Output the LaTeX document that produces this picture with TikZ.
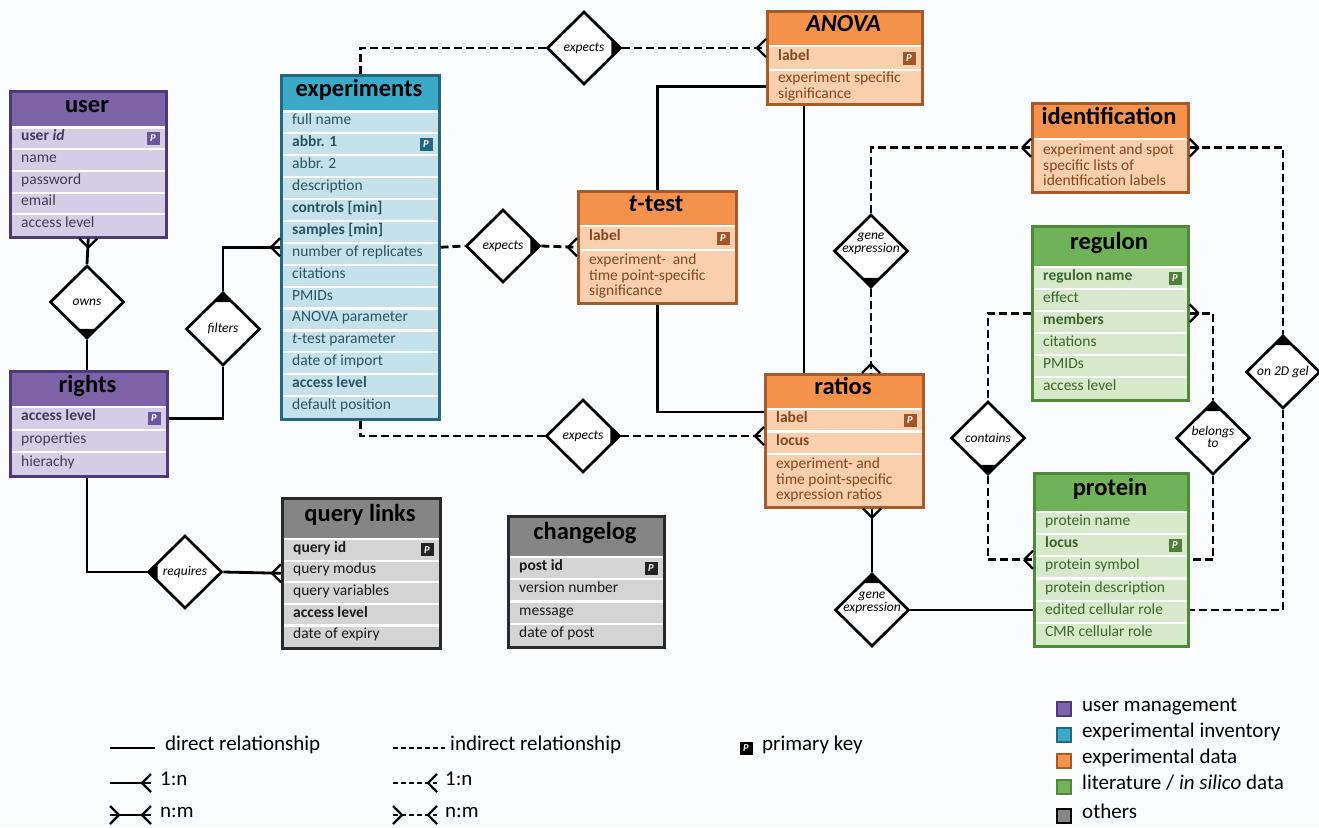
\documentclass[tikz,border=0pt]{standalone}
\usepackage{fontspec}
\setmainfont{Carlito}
\usetikzlibrary{shapes.geometric,calc}

\definecolor{bg}{HTML}{FBFCFE}
\definecolor{puhead}{HTML}{7E63A8}\definecolor{purow}{HTML}{D5CDE6}\definecolor{pudark}{HTML}{4E3A7A}\definecolor{putxt}{HTML}{45395A}\definecolor{pupk}{HTML}{6B55A0}
\definecolor{tehead}{HTML}{3AAAC8}\definecolor{terow}{HTML}{C5E1EB}\definecolor{tedark}{HTML}{22687E}\definecolor{tetxt}{HTML}{285463}\definecolor{tepk}{HTML}{22687E}
\definecolor{orhead}{HTML}{F4914B}\definecolor{orrow}{HTML}{F9CFAE}\definecolor{ordark}{HTML}{A85A2A}\definecolor{ortxt}{HTML}{84461F}\definecolor{orpk}{HTML}{A05628}
\definecolor{grhead}{HTML}{70B257}\definecolor{grrow}{HTML}{D6E9CB}\definecolor{grdark}{HTML}{4F8A3A}\definecolor{grtxt}{HTML}{3A662C}\definecolor{grpk}{HTML}{4F7F3A}
\definecolor{gyhead}{HTML}{858585}\definecolor{gyrow}{HTML}{D4D4D4}\definecolor{gydark}{HTML}{2A2A2A}\definecolor{gytxt}{HTML}{1A1A1A}\definecolor{gypk}{HTML}{222222}

\tikzset{
 rel/.style={line width=2.8pt},
 ind/.style={line width=2.8pt, dash pattern=on 8pt off 4pt},
 crowline/.style={line width=2.4pt},
 rowtxt/.style={anchor=west, inner sep=0, font=\fontsize{15.5}{15.5}\selectfont, text height=0.72em, text depth=0.22em},
 desctxt/.style={anchor=west, inner sep=0, align=left, font=\fontsize{15.5}{15.5}\selectfont},
 ttl/.style={inner sep=0, font=\bfseries\fontsize{24.5}{24.5}\selectfont, text height=0.72em, text depth=0.2em},
 pkbox/.style={rectangle, minimum size=13pt, inner sep=0, text=white, font=\bfseries\itshape\fontsize{10.5}{10.5}\selectfont},
 dia/.style={diamond, draw, line width=2.7pt, fill=white, minimum width=74pt, minimum height=73pt, inner sep=0},
 dlab/.style={inner sep=0, align=center, font=\itshape\fontsize{13.5}{12.5}\selectfont},
 legtxt/.style={anchor=west, inner sep=0, font=\fontsize{21}{21}\selectfont, text height=0.72em, text depth=0.22em},
 legsq/.style={rectangle, minimum size=14pt, inner sep=0, line width=1.8pt},
}

% table: name prefix x1 y1 x2 y2 headerbottom title
\newcommand\ertab[8]{%
 \fill[#2row] (#3,#4) rectangle (#5,#6);
 \fill[#2head] (#3,#4) rectangle (#5,#7);
 \draw[white, line width=2.2pt] (#3,#7) -- (#5,#7);
 \node[ttl] (#1-t) at ({(#3+#5)/2},{(#4+#7)/2+1}) {#8};
}
\newcommand\erbox[6]{%
 \node[draw=#2dark, line width=2.5pt, inner sep=0, anchor=north west,
   minimum width={(#5-#3)*1pt}, minimum height={(#6-#4)*1pt}] (#1) at (#3,#4) {};
}
% rows: name prefix x1 x2 ystart pitch list
\newcommand\errows[7]{%
 \foreach \rtext/\rflag [count=\i] in {#7} {
  \pgfmathsetmacro\yt{#5+(\i-1)*#6}
  \pgfmathsetmacro\ym{#5+(\i-0.5)*#6}
  \ifnum\i>1 \draw[white, line width=2.2pt] (#3,\yt) -- (#4,\yt); \fi
  \node[rowtxt, text=#2txt] (#1-\i) at (#3+12,\ym) {\rtext};
  \ifnum\rflag=1 \node[pkbox, fill=#2pk] (#1-pk) at (#4-12,\ym) {P}; \fi
 }
}
% desc row: name prefix x1 x2 ytop ybot text
\newcommand\erdesc[7]{%
 \draw[white, line width=2.2pt] (#3,#5) -- (#4,#5);
 \node[desctxt, text=#2txt] (#1) at (#3+12,{(#5+#6)/2}) {#7};
}
% crow's foot: point, outward dx, dy
\newcommand\crow[3]{%
 \draw[crowline] ($(#1)+({9*(#2)},{9*(#3)})$) -- ($(#1)+({9*(#3)},{9*(#2)})$)
   ($(#1)+({9*(#2)},{9*(#3)})$) -- ($(#1)+({-9*(#3)},{-9*(#2)})$);
}
% filled triangle at diamond vertex: point, inward dx, dy
\newcommand\tri[3]{%
 \fill ($(#1)$) -- ($(#1)+({11*(#2)+9*(#3)},{11*(#3)+9*(#2)})$) -- ($(#1)+({11*(#2)-9*(#3)},{11*(#3)-9*(#2)})$) -- cycle;
}

\begin{document}
\begin{tikzpicture}[x=1pt,y=-1pt]
\fill[bg] (0,0) rectangle (1319,827);
\useasboundingbox (0,0) rectangle (1319,827);

% ---------- tables ----------
\ertab{user}{pu}{9}{90}{165}{236}{127.5}{user}
\errows{user}{pu}{9}{165}{127.5}{21.7}{{\bfseries user \textit{id}}/1, name/0, password/0, email/0, access level/0}
\erbox{user}{pu}{9}{90}{165}{236}

\ertab{rights}{pu}{9}{370}{166}{475}{407}{rights}
\errows{rights}{pu}{9}{166}{407}{22.67}{{\bfseries access level}/1, properties/0, hierachy/0}
\erbox{rights}{pu}{9}{370}{166}{475}

\ertab{exp}{te}{280}{74}{438}{418}{111.5}{experiments}
\errows{exp}{te}{280}{438}{111.5}{21.89}{full name/0, {\bfseries abbr. 1}/1, abbr. 2/0, description/0, {\bfseries controls [min]}/0, {\bfseries samples [min]}/0, number of replicates/0, citations/0, PMIDs/0, ANOVA parameter/0, {\textit{t}-test parameter}/0, date of import/0, {\bfseries access level}/0, default position/0}
\erbox{exp}{te}{280}{74}{438}{418}

\ertab{anova}{or}{766}{10}{921}{103}{46}{\textit{ANOVA}}
\errows{anova}{or}{766}{921}{46}{24}{{\bfseries label}/1}
\erdesc{anova-d}{or}{766}{921}{70}{103}{experiment specific\\significance}
\erbox{anova}{or}{766}{10}{921}{103}

\ertab{ttest}{or}{577}{190}{735}{302}{226}{\textit{t}-test}
\errows{ttest}{or}{577}{735}{226}{24}{{\bfseries label}/1}
\erdesc{ttest-d}{or}{577}{735}{250}{302}{experiment-~ and\\time point-specific\\significance}
\erbox{ttest}{or}{577}{190}{735}{302}

\ertab{ident}{or}{1031}{102}{1187}{191}{139}{identification}
\erdesc{ident-d}{or}{1031}{1187}{139}{191}{experiment and spot\\specific lists of\\identification labels}
\erbox{ident}{or}{1031}{102}{1187}{191}

\ertab{regulon}{gr}{1031}{225}{1187}{399}{267}{regulon}
\errows{regulon}{gr}{1031}{1187}{267}{22}{{\bfseries regulon name}/1, effect/0, {\bfseries members}/0, citations/0, PMIDs/0, access level/0}
\erbox{regulon}{gr}{1031}{225}{1187}{399}

\ertab{ratios}{or}{764}{373}{922}{506}{409}{ratios}
\errows{ratios}{or}{764}{922}{409}{22.5}{{\bfseries label}/1, {\bfseries locus}/0}
\erdesc{ratios-d}{or}{764}{922}{454}{506}{experiment- and\\time point-specific\\expression ratios}
\erbox{ratios}{or}{764}{373}{922}{506}

\ertab{protein}{gr}{1033}{472}{1187}{645}{512}{protein}
\errows{protein}{gr}{1033}{1187}{512}{22.17}{protein name/0, {\bfseries locus}/1, protein symbol/0, protein description/0, edited cellular role/0, CMR cellular role/0}
\erbox{protein}{gr}{1033}{472}{1187}{645}

\ertab{ql}{gy}{281}{497}{439}{647}{539}{query links}
\errows{ql}{gy}{281}{439}{539}{21.6}{{\bfseries query id}/1, query modus/0, query variables/0, {\bfseries access level}/0, date of expiry/0}
\erbox{ql}{gy}{281}{497}{439}{647}

\ertab{cl}{gy}{507}{515}{663}{646}{557}{changelog}
\errows{cl}{gy}{507}{663}{557}{22.25}{{\bfseries post id}/1, version number/0, message/0, date of post/0}
\erbox{cl}{gy}{507}{515}{663}{646}

% ---------- diamonds ----------
\node[dia] (owns) at (87,302) {};
\node[dia] (filters) at (223,329) {};
\node[dia] (requires) at (185,572) {};
\node[dia] (expA) at (584,48) {};
\node[dia] (expB) at (503,246) {};
\node[dia] (expC) at (583,436) {};
\node[dia] (geA) at (871,251) {};
\node[dia] (geB) at (872,610) {};
\node[dia] (contains) at (988,438) {};
\node[dia] (belongs) at (1213,438) {};
\node[dia] (gel) at (1283,372) {};

% ---------- connectors ----------
\draw[rel] (user.south) -- (owns.north);
\draw[rel] (owns.south) -- (rights.north -| owns.south);
\draw[rel] (filters.north) |- (exp.west);
\coordinate (rightsR) at (rights.east |- rights-1.center);
\draw[rel] (filters.south) |- (rightsR);
\draw[rel] (rights.south -| owns.south) |- (requires.west);
\draw[rel] (requires.east) -- (ql.west);
\draw[ind] (exp.north) |- (expA.west);
\coordinate (anovaL) at (anova.west |- expA.east);
\draw[ind] (expA.east) -- (anovaL);
\draw[ind] (exp.east) -- (expB.west);
\draw[ind] (expB.east) -- (ttest.west);
\draw[ind] (exp.south) |- (expC.west);
\coordinate (ratiosL2) at (ratios.west |- expC.east);
\draw[ind] (expC.east) -- (ratiosL2);
\coordinate (anovaL2) at (anova.west |- anova-d.center);
\draw[rel] (ttest.north) |- (anovaL2);
\coordinate (ratiosL1) at (764,412);
\draw[rel] (ttest.south) |- (ratiosL1);
\coordinate (av) at (804,0);
\draw[rel] (anova.south -| av) -- (ratios.north -| av);
\draw[ind] (geA.north) |- (ident.west);
\coordinate (ratiosT) at (ratios.north -| geA.south);
\draw[ind] (geA.south) -- (ratiosT);
\coordinate (ratiosB) at (ratios.south -| geB.north);
\draw[rel] (ratiosB) -- (geB.north);
\coordinate (proteinL) at (protein.west |- geB.east);
\draw[rel] (geB.east) -- (proteinL);
\draw[ind] (regulon.west) -| (contains.north);
\draw[ind] (contains.south) |- (protein.west);
\draw[ind] (regulon.east) -| (belongs.north);
\draw[ind] (belongs.south) |- (protein.east);
\draw[ind] (ident.east) -| (gel.north);
\coordinate (proteinR) at (protein.east |- geB.east);
\draw[ind] (gel.south) |- (proteinR);

% diamond labels
\node[dlab] (owns-t) at (owns) {owns};
\node[dlab] (filters-t) at (filters) {filters};
\node[dlab] (requires-t) at (requires) {requires};
\node[dlab] (expA-t) at (expA) {expects};
\node[dlab] (expB-t) at (expB) {expects};
\node[dlab] (expC-t) at (expC) {expects};
\node[dlab] (geA-t) at ($(geA)+(0,-7)$) {gene\\expression};
\node[dlab] (geB-t) at ($(geB)+(0,-7)$) {gene\\expression};
\node[dlab] (contains-t) at (contains) {contains};
\node[dlab] (belongs-t) at ($(belongs)+(0,-1)$) {belongs\\to};
\node[dlab] (gel-t) at (gel) {on 2D gel};

% triangles
\tri{owns.south}{0}{-1}
\tri{filters.north}{0}{1}
\tri{requires.west}{1}{0}
\tri{expA.east}{-1}{0}
\tri{expB.east}{-1}{0}
\tri{expC.east}{-1}{0}
\tri{geA.south}{0}{-1}
\tri{geB.north}{0}{1}
\tri{contains.south}{0}{-1}
\tri{belongs.north}{0}{1}
\tri{gel.north}{0}{1}

% crow's feet
\crow{user.south}{0}{1}
\crow{exp.west}{-1}{0}
\crow{anovaL}{-1}{0}
\crow{ttest.west}{-1}{0}
\crow{ratiosL2}{-1}{0}
\crow{ident.west}{-1}{0}
\crow{ratiosT}{0}{-1}
\crow{ratiosB}{0}{1}
\crow{protein.west}{-1}{0}
\crow{regulon.east}{1}{0}
\crow{ident.east}{1}{0}
\crow{ql.west}{-1}{0}

% ---------- legend ----------
\coordinate (la1) at (110,748); \coordinate (lb1) at (155,748);
\draw[rel] (la1) -- (lb1);
\node[legtxt] (lt1) at (165,748) {direct relationship};
\coordinate (la2) at (110,783); \coordinate (lb2) at (151,783);
\draw[rel] (la2) -- (lb2); \crow{lb2}{-1}{0}
\node[legtxt] (lt2) at (160,783) {1:n};
\coordinate (la3) at (110,815); \coordinate (lb3) at (151,815);
\draw[rel] (la3) -- (lb3); \crow{lb3}{-1}{0} \crow{la3}{1}{0}
\node[legtxt] (lt3) at (160,815) {n:m};

\coordinate (ld1) at (393,748); \coordinate (le1) at (445,748);
\draw[ind, dash pattern=on 5pt off 3pt] (ld1) -- (le1);
\node[legtxt] (lt4) at (450,748) {indirect relationship};
\coordinate (ld2) at (393,783); \coordinate (le2) at (437,783);
\draw[ind, dash pattern=on 5pt off 3pt] (ld2) -- (le2); \crow{le2}{-1}{0}
\node[legtxt] (lt5) at (445,783) {1:n};
\coordinate (ld3) at (393,815); \coordinate (le3) at (437,815);
\draw[ind, dash pattern=on 5pt off 3pt] (ld3) -- (le3); \crow{le3}{-1}{0} \crow{ld3}{1}{0}
\node[legtxt] (lt6) at (445,815) {n:m};

\node[pkbox, fill=black] (lpk) at (746,748) {P};
\node[legtxt] (lt7) at (762,748) {primary key};

\node[legsq, fill=puhead, draw=pudark] (lsq1) at (1064,709) {};
\node[legtxt] (lc1) at (1082,709) {user management};
\node[legsq, fill=tehead, draw=tedark] (lsq2) at (1064,735) {};
\node[legtxt] (lc2) at (1082,735) {experimental inventory};
\node[legsq, fill=orhead, draw=ordark] (lsq3) at (1064,761) {};
\node[legtxt] (lc3) at (1082,761) {experimental data};
\node[legsq, fill=grhead, draw=grdark] (lsq4) at (1064,787) {};
\node[legtxt] (lc4) at (1082,787) {literature / \textit{in silico} data};
\node[legsq, fill=gyhead, draw=black] (lsq5) at (1064,816) {};
\node[legtxt] (lc5) at (1082,816) {others};
\end{tikzpicture}
\end{document}
